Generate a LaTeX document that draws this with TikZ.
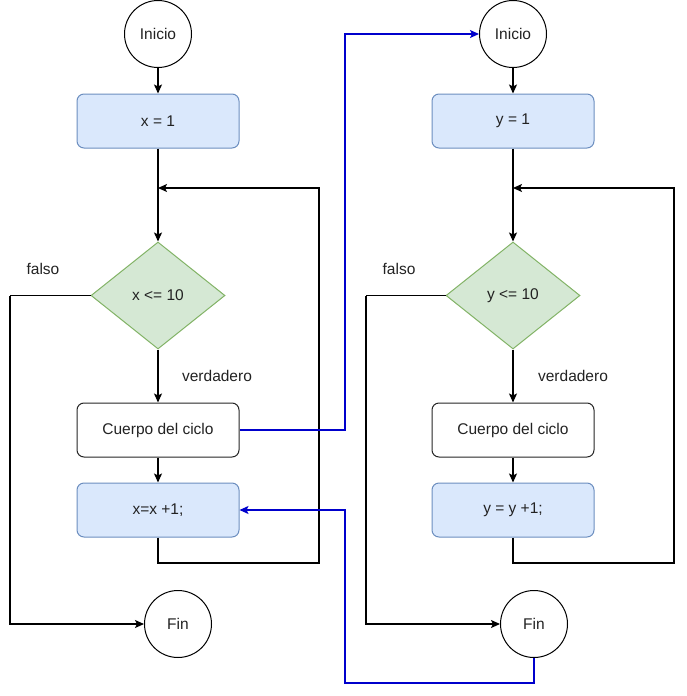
\documentclass[tikz,border=0pt]{standalone}
\usepackage{fontspec}
\setmainfont{Liberation Sans}
\usetikzlibrary{shapes.geometric,arrows.meta}
\definecolor{bfill}{HTML}{DAE8FC}
\definecolor{bdraw}{HTML}{6C8EBF}
\definecolor{gfill}{HTML}{D5E8D4}
\definecolor{gdraw}{HTML}{82B366}
\definecolor{txt}{HTML}{222222}
\definecolor{lnk}{HTML}{0000CC}
\tikzset{
  every node/.style={font=\fontsize{15.5}{18}\selectfont, text=txt},
  term/.style={circle, draw=black, line width=1pt, fill=white, minimum size=67pt, inner sep=0pt},
  proc/.style={rectangle, rounded corners=7pt, line width=1pt, minimum width=162pt, minimum height=54pt, inner sep=0pt},
  bluebox/.style={proc, draw=bdraw, fill=bfill},
  whitebox/.style={proc, draw=black!85, fill=white},
  decis/.style={diamond, draw=gdraw, fill=gfill, line width=1pt, minimum width=134pt, minimum height=107pt, inner sep=0pt},
  lbl/.style={inner sep=0pt},
  flow/.style={line width=1.2pt, -{Stealth[length=9pt,width=8pt,inset=2pt]}},
  plain/.style={line width=1.2pt},
  blueflow/.style={flow, draw=lnk, line width=1.3pt},
}
\begin{document}
\begin{tikzpicture}[x=1pt,y=-1pt]
\useasboundingbox (0,0) rectangle (686,696);
% left column
\node[term] (i1) at (158,34) {Inicio};
\node[bluebox] (a1) at (158,121) {x = 1};
\node[decis] (d1) at (158,295.5) {x <= 10};
\node[whitebox] (c1) at (158,430) {Cuerpo del ciclo};
\node[bluebox] (u1) at (158,510) {x=x +1;};
\node[term] (f1) at (178,624) {Fin};
\node[lbl] (fa1) at (43,269) {falso};
\node[lbl] (v1) at (217,376) {verdadero};
\coordinate (j1) at (158,188);
\coordinate (r1) at (319,563);
\coordinate (l1) at (10,295.5);
% right column
\node[term] (i2) at (513,34) {Inicio};
\node[bluebox] (a2) at (513,121) {y = 1};
\node[decis] (d2) at (513,295.5) {y <= 10};
\node[whitebox] (c2) at (513,430) {Cuerpo del ciclo};
\node[bluebox] (u2) at (513,510) {y = y +1;};
\node[term] (f2) at (534,624) {Fin};
\node[lbl] (fa2) at (399,269) {falso};
\node[lbl] (v2) at (573,376) {verdadero};
\coordinate (j2) at (513,188);
\coordinate (r2) at (674,563);
\coordinate (l2) at (366,295.5);
% blue links
\coordinate (b1) at (345,34);
\coordinate (b2) at (345,683);
% left flows
\draw[flow] (i1) -- (a1);
\draw[flow] (a1) -- (d1);
\draw[flow] (d1) -- (c1);
\draw[flow] (c1) -- (u1);
\draw[plain] (d1.west) -- (l1);
\draw[flow] (l1) |- (f1.west);
\draw[flow] (u1.south) |- (r1) |- (j1);
% right flows
\draw[flow] (i2) -- (a2);
\draw[flow] (a2) -- (d2);
\draw[flow] (d2) -- (c2);
\draw[flow] (c2) -- (u2);
\draw[plain] (d2.west) -- (l2);
\draw[flow] (l2) |- (f2.west);
\draw[flow] (u2.south) |- (r2) |- (j2);
% cross links
\draw[blueflow] (c1.east) -| (b1) -- (i2.west);
\draw[blueflow] (f2.south) |- (b2) |- (u1.east);
\end{tikzpicture}
\end{document}
